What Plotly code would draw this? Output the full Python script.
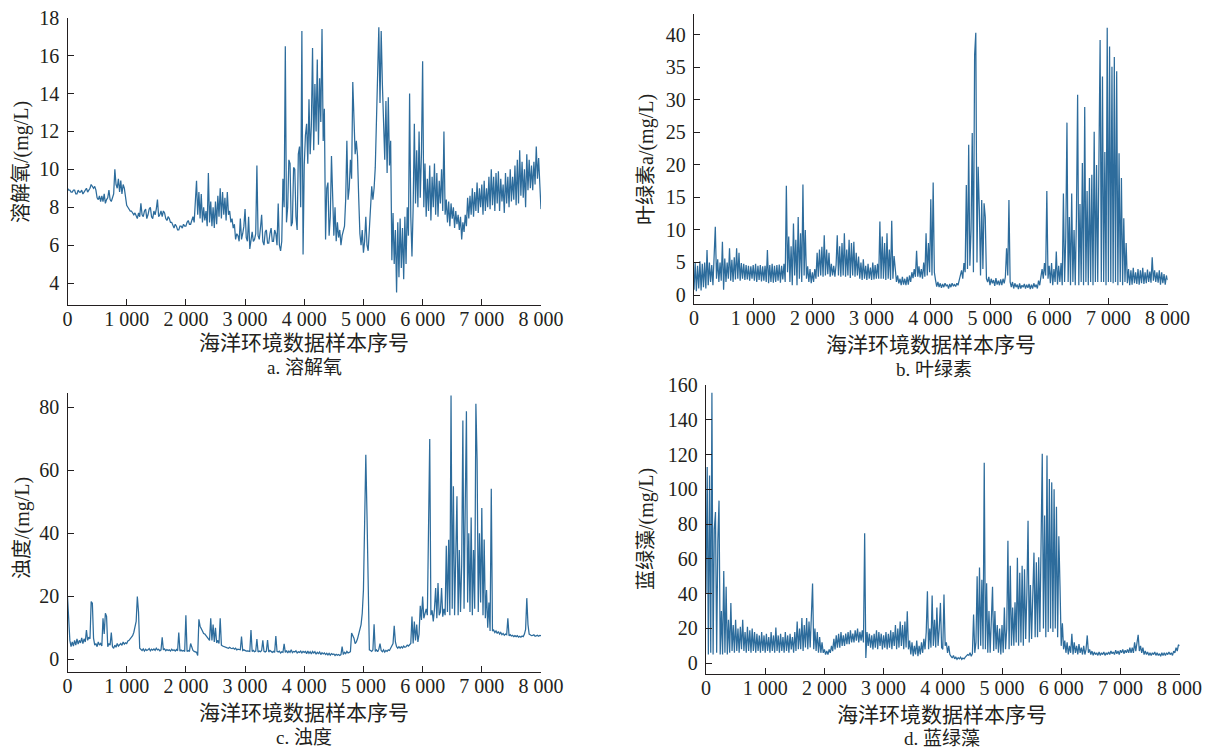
import plotly.graph_objects as go

# ---------------- data (one value every 20 samples) ----------------
SAMPLE_STEP = 20

dissolved_oxygen = [
    9.0, 8.9, 8.9, 8.8, 8.8, 8.9, 8.9, 8.7, 8.7, 8.9, 8.8, 8.8, 8.9, 8.7, 8.8, 8.9, 9.0, 8.8, 8.9, 9.0,
    9.2, 9.1, 9.0, 9.1, 8.9, 8.5, 8.4, 8.6, 8.3, 8.6, 8.3, 8.7, 8.2, 8.4, 8.5, 8.9, 8.4, 8.3, 8.5, 8.7,
    10.0, 9.2, 9.0, 9.5, 8.8, 9.4, 8.7, 9.2, 9.0, 8.6, 8.1, 8.0, 7.9, 7.8, 7.8, 7.7, 7.6, 7.7, 7.5, 7.4,
    7.7, 7.5, 8.2, 7.6, 7.5, 7.8, 7.9, 7.4, 7.6, 7.9, 8.0, 7.5, 7.4, 7.8, 7.6, 7.9, 8.4, 7.5, 7.6, 7.8,
    7.5, 7.8, 7.7, 7.4, 7.3, 7.5, 7.4, 7.2, 7.2, 7.0, 6.9, 7.1, 7.0, 6.8, 6.8, 7.0, 7.0, 6.9, 7.1, 7.0,
    7.0, 7.2, 7.3, 7.1, 7.1, 7.3, 7.5, 7.2, 8.3, 9.4, 7.6, 8.8, 7.4, 8.7, 7.2, 8.0, 7.3, 7.8, 7.0, 9.8,
    7.2, 8.3, 7.0, 8.0, 6.9, 8.3, 7.1, 8.6, 7.5, 9.0, 7.4, 8.8, 7.6, 8.5, 7.3, 8.8, 7.6, 7.8, 7.2, 7.4,
    6.9, 7.1, 6.3, 6.6, 6.5, 6.2, 7.4, 6.3, 6.6, 7.0, 7.9, 6.4, 6.2, 7.5, 5.8, 6.4, 6.7, 6.2, 6.3, 6.6,
    10.2, 6.5, 6.3, 6.9, 7.6, 6.2, 6.0, 6.7, 6.8, 6.1, 6.1, 6.6, 6.9, 6.2, 6.2, 6.8, 6.6, 6.0, 8.2, 6.0,
    5.7, 6.2, 9.5, 8.0, 16.5, 7.2, 8.0, 10.5, 10.3, 7.0, 7.2, 10.1, 10.0, 7.5, 6.8, 10.8, 11.2, 8.0, 17.3, 5.5,
    10.2, 11.8, 12.4, 10.3, 13.7, 10.8, 12.3, 16.4, 11.0, 14.5, 12.0, 15.8, 11.3, 14.8, 12.5, 17.4, 11.5, 13.2, 6.3, 9.0,
    9.3, 6.5, 7.5, 10.7, 7.8, 6.5, 8.0, 6.2, 7.2, 6.4, 6.8, 6.0, 6.5, 6.8, 7.0, 8.4, 11.5, 8.4, 9.0, 10.5,
    9.5, 14.6, 12.2, 10.8, 11.5, 10.7, 8.5, 6.6, 6.0, 6.8, 5.6, 6.2, 7.5, 6.0, 5.7, 6.8, 8.5, 9.1, 8.4, 9.0,
    10.1, 12.8, 15.0, 17.5, 13.5, 17.3, 14.5, 12.8, 10.5, 13.6, 9.8, 13.8, 10.2, 11.5, 5.2, 7.7, 5.0, 6.8, 3.5, 7.2,
    4.3, 7.4, 4.8, 6.9, 4.2, 7.5, 5.0, 8.0, 6.5, 14.0, 7.5, 5.4, 8.0, 12.4, 8.2, 11.0, 8.0, 12.0, 8.5, 10.8,
    15.7, 8.0, 10.3, 7.5, 9.5, 7.8, 10.2, 7.3, 9.6, 8.0, 10.3, 7.6, 9.8, 7.5, 9.4, 8.2, 10.0, 7.8, 12.0, 7.6,
    8.4, 7.2, 8.3, 7.0, 8.2, 7.4, 8.0, 6.9, 7.8, 7.1, 7.6, 6.8, 7.5, 6.3, 7.2, 6.7, 7.6, 7.0, 8.5, 7.4,
    8.6, 7.6, 9.0, 7.5, 8.8, 7.8, 9.3, 7.7, 9.0, 8.0, 9.2, 7.6, 9.4, 7.8, 9.0, 8.0, 9.6, 7.9, 10.0, 8.1,
    9.6, 7.8, 9.8, 8.2, 9.9, 7.8, 9.5, 8.3, 9.2, 7.7, 9.8, 8.2, 9.6, 8.0, 10.0, 8.3, 9.6, 8.4, 10.2, 8.1,
    10.5, 8.2, 11.0, 8.6, 10.4, 8.5, 10.0, 8.0, 10.8, 8.9, 10.5, 9.0, 10.2, 8.9, 10.4, 9.2, 11.2, 9.5, 10.6, 9.2,
    7.9,
]

chlorophyll = [
    0.8, 4.9, 0.6, 4.5, 1.0, 5.2, 0.7, 4.8, 1.2, 5.0, 1.0, 6.9, 1.5, 5.0, 2.0, 4.6, 1.5, 5.2, 10.5, 2.5,
    5.5, 2.0, 5.0, 2.2, 8.2, 0.8, 5.6, 2.0, 5.0, 2.5, 7.2, 2.2, 5.4, 2.0, 5.8, 2.4, 7.2, 2.5, 6.5, 2.2,
    4.9, 2.5, 4.8, 2.3, 4.6, 2.4, 4.5, 2.2, 4.4, 2.5, 4.6, 2.2, 4.8, 2.0, 4.5, 2.3, 4.6, 2.1, 4.4, 2.2,
    4.5, 2.0, 6.9, 1.8, 4.6, 2.0, 4.8, 1.9, 4.5, 2.0, 4.6, 2.2, 4.7, 1.9, 4.5, 2.4, 4.8, 2.0, 16.8, 3.5,
    9.0, 2.0, 7.5, 1.5, 11.0, 3.0, 8.5, 1.5, 12.0, 2.5, 9.5, 2.0, 17.0, 3.0, 10.0, 2.5, 4.4, 2.0, 4.0, 1.8,
    3.5, 2.0, 4.0, 2.5, 6.5, 2.8, 7.0, 3.0, 7.4, 2.8, 9.2, 3.0, 7.0, 3.2, 6.5, 2.8, 4.8, 3.0, 4.5, 2.8,
    4.6, 9.2, 3.0, 7.5, 2.8, 8.0, 3.0, 9.5, 2.8, 7.0, 3.0, 8.5, 2.6, 8.0, 3.0, 8.2, 2.8, 6.5, 3.0, 5.9,
    2.5, 5.0, 2.3, 5.5, 2.5, 4.5, 2.3, 4.8, 2.5, 4.2, 2.3, 5.0, 2.4, 4.6, 2.5, 4.8, 2.5, 11.3, 2.5, 9.0,
    2.5, 8.0, 2.3, 9.5, 2.5, 7.0, 2.3, 11.4, 2.5, 6.0, 3.3, 2.0, 3.0, 1.8, 2.5, 1.5, 2.8, 1.6, 2.5, 1.5,
    2.8, 1.6, 3.0, 2.0, 3.5, 2.6, 4.0, 2.8, 6.8, 2.8, 4.4, 2.7, 4.0, 2.5, 5.0, 2.8, 9.5, 3.0, 8.0, 3.5,
    14.7, 3.0, 17.3, 3.5, 2.3, 1.3, 2.0, 1.2, 1.8, 1.1, 1.7, 1.2, 1.8, 1.4, 1.6, 1.0, 1.7, 1.2, 1.8, 1.4,
    1.6, 1.3, 1.8, 1.5, 2.3, 3.0, 3.8, 2.5, 4.9, 3.5, 16.9, 4.0, 23.1, 4.5, 10.0, 24.9, 3.5, 36.9, 40.3, 5.0,
    19.7, 13.1, 3.0, 14.6, 4.0, 14.1, 12.0, 2.5, 2.0, 2.8, 1.5, 2.5, 1.8, 2.3, 1.4, 2.6, 1.6, 2.2, 1.5, 2.4,
    1.5, 2.5, 1.8, 2.8, 7.2, 3.0, 14.6, 2.0, 1.2, 2.0, 1.0, 1.8, 1.2, 1.6, 0.9, 1.8, 1.0, 1.5, 1.2, 1.7,
    1.0, 1.6, 1.1, 1.7, 0.9, 1.6, 1.0, 1.8, 1.2, 1.6, 1.0, 2.2, 1.5, 2.8, 4.0, 2.5, 4.9, 3.0, 16.0, 2.5,
    4.5, 1.8, 4.9, 1.5, 4.0, 2.0, 6.7, 1.6, 4.5, 2.0, 4.9, 1.5, 15.6, 2.0, 9.0, 26.5, 2.0, 12.0, 1.5, 15.6,
    2.0, 10.0, 1.5, 12.0, 30.8, 1.5, 14.0, 2.0, 20.3, 1.5, 28.9, 2.0, 16.0, 1.5, 18.0, 2.0, 18.5, 1.5, 25.1, 2.0,
    20.0, 2.0, 25.9, 39.2, 2.0, 33.6, 2.0, 22.0, 1.5, 41.1, 2.0, 38.2, 2.0, 35.1, 1.8, 36.6, 2.0, 34.4, 1.5, 21.8,
    2.0, 18.0, 1.5, 11.8, 2.0, 8.0, 1.8, 4.0, 1.5, 3.8, 1.6, 4.2, 1.8, 3.5, 1.7, 4.0, 1.6, 3.8, 1.8, 4.2,
    1.7, 3.5, 1.8, 3.9, 2.0, 3.6, 1.9, 5.8, 2.2, 3.8, 2.0, 3.5, 1.9, 3.8, 1.6, 3.5, 1.8, 3.2, 1.6, 3.0,
    2.3,
]

turbidity = [
    19.9, 10.0, 6.0, 4.0, 5.5, 4.2, 6.0, 4.5, 6.5, 4.8, 6.0, 5.2, 6.8, 5.0, 6.5, 5.5, 9.3, 6.0, 7.0, 6.5,
    18.3, 17.8, 6.7, 4.5, 5.0, 4.0, 5.5, 4.5, 5.0, 4.2, 13.0, 8.0, 14.6, 13.6, 4.0, 5.0, 4.5, 8.5, 4.0, 3.5,
    4.5, 3.8, 5.0, 4.2, 4.5, 5.0, 4.4, 5.5, 4.8, 5.2, 5.0, 5.8, 6.0, 6.5, 7.0, 7.5, 8.5, 9.9, 12.0, 19.9,
    15.0, 3.5, 3.0, 2.8, 3.3, 2.6, 3.2, 2.8, 3.0, 3.4, 2.7, 3.2, 2.9, 3.3, 2.8, 3.5, 3.0, 3.2, 2.7, 3.0,
    7.0, 3.0, 3.3, 2.7, 3.1, 2.8, 3.0, 2.6, 3.2, 2.8, 3.0, 2.6, 3.1, 2.7, 8.5, 2.6, 2.9, 2.6, 2.8, 2.5,
    14.0, 2.5, 2.8, 2.5, 5.0, 3.5, 2.8, 2.5, 2.4, 2.2, 1.2, 12.7, 10.5, 9.5, 9.0, 8.2, 8.0, 7.5, 7.0, 6.5,
    6.0, 13.0, 6.0, 11.0, 5.5, 10.0, 5.2, 6.0, 5.0, 13.0, 4.5, 4.2, 4.0, 4.0, 3.8, 3.6, 3.5, 3.8, 3.5, 3.4,
    3.6, 3.2, 3.5, 3.0, 3.2, 3.0, 3.0, 7.2, 2.8, 3.0, 2.8, 2.6, 2.7, 2.6, 2.5, 9.3, 2.5, 2.8, 2.4, 2.6,
    6.4, 2.3, 2.6, 2.4, 2.8, 6.0, 2.5, 2.3, 2.6, 6.1, 2.3, 2.8, 2.4, 2.2, 2.5, 2.2, 7.4, 2.5, 2.3, 2.6,
    2.0, 2.4, 2.2, 4.9, 2.2, 2.8, 2.0, 2.6, 2.2, 3.0, 2.1, 2.5, 2.3, 2.7, 2.0, 2.4, 2.2, 2.6, 2.0, 2.5,
    2.2, 2.5, 1.8, 2.6, 1.9, 2.4, 1.7, 2.5, 2.0, 2.4, 1.6, 2.2, 1.8, 2.3, 1.5, 2.1, 1.7, 2.0, 1.5, 1.9,
    1.4, 1.9, 1.3, 1.8, 1.5, 1.7, 1.2, 1.6, 1.3, 1.5, 1.2, 1.5, 4.0, 1.5, 2.2, 1.8, 2.5, 2.0, 2.2, 2.4,
    8.3, 7.5, 6.7, 5.0, 5.5, 6.5, 8.0, 9.5, 11.0, 14.6, 22.0, 43.0, 64.9, 45.9, 19.9, 3.0, 2.8, 2.5, 3.0, 11.1,
    2.5, 3.0, 2.4, 3.2, 5.0, 2.8, 2.4, 3.0, 2.3, 2.8, 2.5, 3.0, 2.8, 3.5, 4.0, 5.0, 10.6, 5.5, 4.0, 3.5,
    4.0, 3.5, 4.0, 3.6, 4.2, 3.8, 4.0, 4.5, 4.2, 4.5, 5.0, 13.6, 5.0, 12.0, 6.0, 11.0, 5.5, 8.0, 17.0, 12.5,
    19.9, 13.0, 15.0, 16.0, 14.0, 43.2, 69.9, 14.0, 15.5, 12.0, 16.0, 22.6, 13.0, 24.2, 14.0, 15.0, 22.6, 13.5, 16.0, 14.0,
    36.0, 15.0, 37.9, 14.0, 83.7, 16.0, 54.9, 14.0, 35.0, 51.7, 14.0, 34.7, 15.0, 30.0, 75.8, 16.0, 48.5, 78.7, 18.0, 40.0,
    15.0, 45.0, 14.0, 34.7, 16.0, 81.1, 63.3, 15.0, 40.0, 18.0, 48.0, 14.0, 38.0, 13.0, 22.0, 10.0, 18.0, 9.0, 54.1, 9.0,
    9.3, 8.5, 9.0, 8.2, 8.8, 8.0, 8.5, 7.8, 8.2, 7.6, 8.0, 7.8, 13.0, 7.5, 7.8, 7.4, 7.6, 7.2, 7.5, 7.2,
    7.5, 7.0, 7.3, 7.0, 7.4, 7.2, 8.0, 9.5, 19.4, 11.0, 8.0, 7.8, 7.5, 7.6, 7.8, 7.3, 7.5, 7.6, 7.3, 7.6,
    7.5,
]

cyanobacteria = [
    40, 112.8, 5, 108, 6, 155.6, 5, 77, 87, 6, 70, 93.5, 5, 30, 5, 53, 6, 44, 5, 25,
    6, 34.7, 7, 22, 6, 25, 7, 20, 6, 21, 8, 25, 7, 18, 6, 21, 7, 19, 6, 20,
    7, 18, 6, 17, 7, 16, 6, 18, 7, 16, 6, 17, 7, 15, 6, 18, 7, 16, 6, 20.6,
    7, 16, 6, 17, 7, 15, 6, 18, 7, 16, 6, 17, 8, 15, 6, 18, 7, 24, 8, 20,
    8, 26, 7, 22, 9, 26, 8, 24, 9, 27, 45.9, 8, 20, 7, 18, 6, 15, 6, 12, 6,
    8, 5, 7, 5, 8, 6, 10, 7, 14, 8, 16, 9, 17, 9, 18, 10, 16, 10, 17, 11,
    18, 11, 19, 12, 17, 12, 19, 13, 20, 12, 18, 13, 19, 12, 74.8, 3, 18, 10, 17, 9,
    16, 8, 17, 9, 19, 8, 18, 10, 17, 8, 16, 9, 18, 8, 17, 9, 19, 8, 18, 10,
    22, 8, 20, 9, 24, 10, 22, 8, 24, 9, 29.9, 8, 13, 5, 12, 4, 10, 5, 13, 4,
    10, 5, 12, 6, 14, 8, 18, 41.4, 8, 20, 9, 39, 10, 25, 9, 32, 10, 20, 34.7, 9,
    8, 39.5, 10, 12, 6, 10, 5, 4, 3, 4.5, 2.5, 3.5, 2.2, 3.2, 2.5, 3.5, 2.2, 3.0, 2.5, 3.5,
    4, 5, 4.5, 6, 4, 5.5, 28, 6, 12, 50, 8, 55, 10, 48, 8, 115.3, 8, 46, 6, 30,
    6, 25, 44, 7, 30, 8, 22, 6, 20, 5, 22, 6, 32, 8, 20, 70.4, 8, 56, 10, 32,
    10, 35, 12, 60.7, 10, 52, 12, 56, 10, 54, 14, 40, 81.9, 12, 45, 14, 50, 63.6, 15, 58,
    15, 61, 18, 59, 120.5, 20, 85, 15, 119.5, 18, 106, 20, 104, 18, 100, 20, 90, 15, 73, 44,
    10, 23, 8, 13, 6, 12, 5, 10, 6, 17, 5, 12, 6, 10, 5, 11, 6, 9, 5, 10,
    5, 8, 16, 6, 8, 5, 7, 4.5, 6.5, 5, 6, 4.5, 6.5, 4.5, 6, 5, 6.5, 4.5, 6, 5,
    6.5, 5, 7, 5.5, 6.5, 5, 7.5, 5.5, 7, 5, 7.5, 6, 8, 5.5, 7.5, 6, 8, 6, 9, 6,
    9, 6, 12, 7, 13, 16.4, 7, 10, 6, 9, 5, 7, 5, 6.5, 4.5, 6, 4.5, 6, 5, 6.5,
    4.5, 6, 4.5, 5.5, 4, 6, 4.5, 6, 4.5, 6, 5, 6.5, 5, 6, 4.5, 7, 6, 9, 7, 10.6,
    10,
]

x_tick_values = [0, 1000, 2000, 3000, 4000, 5000, 6000, 7000, 8000]
x_tick_labels = ["0", "1 000", "2 000", "3 000", "4 000", "5 000", "6 000", "7 000", "8 000"]

do_ticks = [4, 6, 8, 10, 12, 14, 16, 18]
chl_ticks = [0, 5, 10, 15, 20, 25, 30, 35, 40]
tur_ticks = [0, 20, 40, 60, 80]
cya_ticks = [0, 20, 40, 60, 80, 100, 120, 140, 160]

x_title = "海洋环境数据样本序号"
y_titles = ["溶解氧/(mg/L)", "叶绿素a/(mg/L)", "浊度/(mg/L)", "蓝绿藻/(mg/L)"]
captions = ["a. 溶解氧", "b. 叶绿素", "c. 浊度", "d. 蓝绿藻"]

for s in (dissolved_oxygen, chlorophyll, turbidity, cyanobacteria):
    assert len(s) == 401, len(s)

sample_index = [i * SAMPLE_STEP for i in range(len(dissolved_oxygen))]

# ---------------- figure ----------------
W, H = 1212, 750
LINE = "#2d6c9c"
INK = "#231f20"
SERIF = "Liberation Serif, Times New Roman, serif"
CJK = "Liberation Serif, Noto Sans CJK SC, serif"


def px_x(p):
    return p / W


def px_y(p):
    return 1 - p / H


panels = [
    # series, domain x (px left, right), domain y (px bottom, top), y range, y ticks
    (dissolved_oxygen, (67.5, 541.0), (305.0, 17.7), [2.84, 18.0], do_ticks),
    (chlorophyll, (694.0, 1167.6), (304.3, 14.0), [-1.43, 43.2], chl_ticks),
    (turbidity, (67.5, 541.0), (671.7, 393.0), [-3.94, 84.5], tur_ticks),
    (cyanobacteria, (706.0, 1179.6), (674.3, 385.0), [-6.36, 160.0], cya_ticks),
]

fig = go.Figure()
layout = dict(
    width=W, height=H, autosize=False,
    margin=dict(l=0, r=0, t=0, b=0, pad=0, autoexpand=False),
    paper_bgcolor="white", plot_bgcolor="white",
    showlegend=False,
    annotations=[],
)

axis_common = dict(
    showline=True, linecolor=INK, linewidth=1.3,
    ticks="inside", ticklen=6, tickwidth=1.3, tickcolor=INK,
    showgrid=False, zeroline=False, automargin=False,
    tickfont=dict(family=SERIF, size=20, color=INK),
)

for k, (series, dx, dy, yr, yt) in enumerate(panels):
    n = "" if k == 0 else str(k + 1)
    fig.add_trace(go.Scatter(
        x=sample_index, y=series, mode="lines",
        line=dict(color=LINE, width=1.25),
        xaxis="x" + n, yaxis="y" + n, hoverinfo="skip",
    ))
    layout["xaxis" + n] = dict(
        axis_common, domain=[px_x(dx[0]), px_x(dx[1])], range=[0, 8000],
        anchor="y" + n, tickvals=x_tick_values, ticktext=x_tick_labels,
        ticklabelstandoff=-4,
    )
    layout["yaxis" + n] = dict(
        axis_common, domain=[px_y(dy[0]), px_y(dy[1])], range=yr,
        anchor="x" + n, tickvals=yt, ticklabelstandoff=3,
    )

# titles & captions (pixel positions)
title_pos = [(304, 343), (931, 345), (304, 713), (942, 715)]
caption_pos = [(304, 367), (934, 369), (304, 737), (942, 738)]
ytitle_pos = [(22, 162), (646, 160), (22, 528), (646, 529)]

for k in range(4):
    tx, ty = title_pos[k]
    layout["annotations"].append(dict(
        text=x_title, x=px_x(tx), y=px_y(ty), xref="paper", yref="paper",
        showarrow=False, xanchor="center", yanchor="middle",
        font=dict(family=CJK, size=21, color=INK)))
    cx, cy = caption_pos[k]
    layout["annotations"].append(dict(
        text=captions[k], x=px_x(cx), y=px_y(cy), xref="paper", yref="paper",
        showarrow=False, xanchor="center", yanchor="middle",
        font=dict(family=CJK, size=19, color=INK)))
    yx, yy = ytitle_pos[k]
    layout["annotations"].append(dict(
        text=y_titles[k], x=px_x(yx), y=px_y(yy), xref="paper", yref="paper",
        showarrow=False, xanchor="center", yanchor="middle", textangle=-90,
        font=dict(family=CJK, size=20, color=INK)))

fig.update_layout(layout)
# the page body has a default 8px margin; remove it so the figure sits at (0, 0)
fig.write_html(
    "out.html",
    config={"displayModeBar": False},
    post_script="document.body.style.margin='0';document.body.style.overflow='hidden';",
)
